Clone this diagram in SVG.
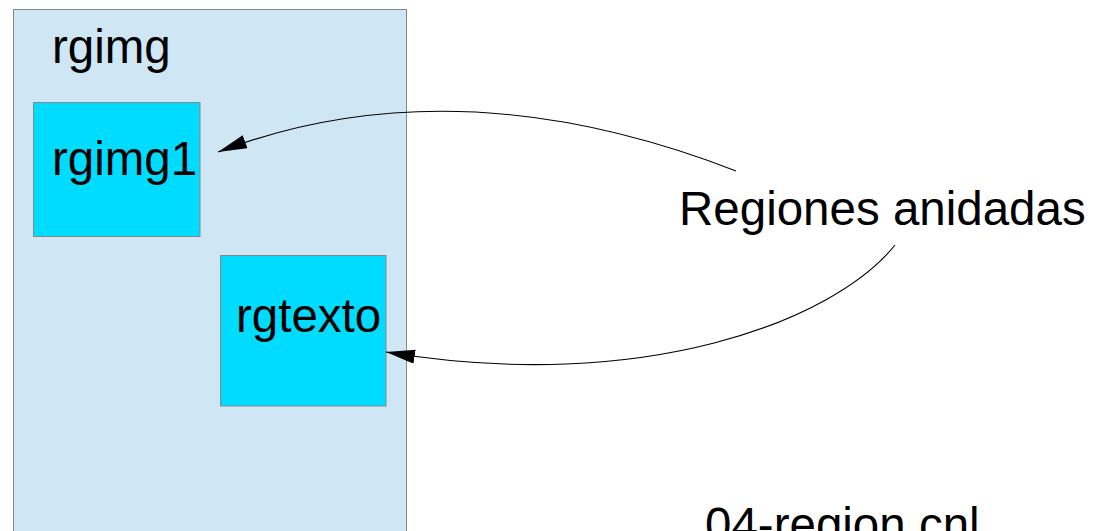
<svg xmlns="http://www.w3.org/2000/svg" width="1105" height="531" viewBox="0 0 1105 531">
<style>
text{font-family:"Liberation Sans",Arial,sans-serif;font-size:47.5px;fill:#000}
.outer{fill:#cfe6f4;stroke:#888;stroke-width:1}
.inner{fill:#00dcff;stroke:#888;stroke-width:1}
.conn{fill:none;stroke:#000;stroke-width:1.1}
</style>
<defs>
<marker id="ah" markerUnits="userSpaceOnUse" markerWidth="30" markerHeight="16" refX="29" refY="7" orient="auto">
<path d="M0,0 L29,7 L0,14 Z" fill="#000"/>
</marker>
</defs>
<g id="rgimg">
<rect class="outer" x="13.5" y="9.5" width="393" height="540"/>
<text x="52" y="63">rgimg</text>
</g>
<g id="rgimg1">
<rect class="inner" x="33.5" y="102.5" width="166.5" height="134"/>
<text x="52" y="175">rgimg1</text>
</g>
<g id="rgtexto">
<rect class="inner" x="220.5" y="255.5" width="165.5" height="150.5"/>
<text x="236" y="332">rgtexto</text>
</g>
<g id="label">
<text x="679" y="225">Regiones anidadas</text>
</g>
<g id="filename">
<text x="705" y="541">04-region.cnl</text>
</g>
<g id="connectors">
<path class="conn" d="M736,171 Q455,62 218,152" marker-end="url(#ah)"/>
<path class="conn" d="M895,245 C835,320 645,395 386,352" marker-end="url(#ah)"/>
</g>
</svg>
